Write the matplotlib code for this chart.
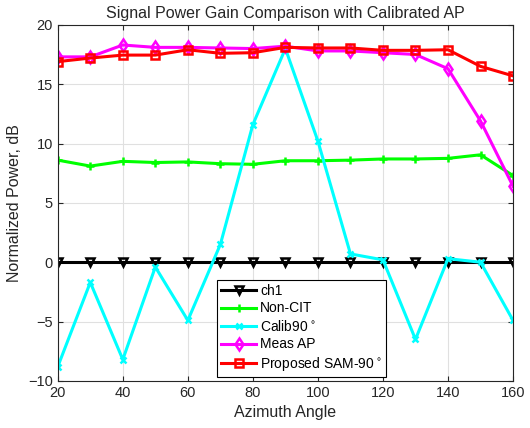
import numpy as np
import matplotlib
matplotlib.use('Agg')
import matplotlib.pyplot as plt

plt.rcParams['font.family'] = ['Liberation Sans', 'DejaVu Sans']

angles = [20, 30, 40, 50, 60, 70, 80, 90, 100, 110, 120, 130, 140, 150, 160]
ch1 = [0]*15
non_cit = [8.6, 8.1, 8.5, 8.4, 8.45, 8.3, 8.25, 8.55, 8.55, 8.6, 8.7, 8.7, 8.75, 9.05, 7.3]
calib90 = [-8.8, -1.7, -8.2, -0.4, -4.9, 1.5, 11.6, 18.0, 10.2, 0.7, 0.2, -6.5, 0.3, 0.0, -4.9]
meas_ap = [17.3, 17.3, 18.3, 18.1, 18.1, 18.05, 18.0, 18.2, 17.8, 17.8, 17.65, 17.5, 16.3, 11.9, 6.4]
sam90 = [16.9, 17.2, 17.45, 17.45, 17.9, 17.6, 17.65, 18.1, 18.05, 18.05, 17.85, 17.85, 17.9, 16.5, 15.7]

fig = plt.figure(figsize=(5.3, 4.28), dpi=100)
ax = fig.add_axes([0.109, 0.110, 0.859, 0.832])

lw = 2.2
ax.plot(angles, ch1, color='k', marker='v', ms=6, lw=lw, mfc='none', mew=1.8, label='ch1')
ax.plot(angles, non_cit, color='#00ff00', marker='+', ms=6, lw=lw, mew=1.8, label='Non-CIT')
ax.plot(angles, calib90, color='#00ffff', marker='x', ms=5, lw=lw, mew=1.8, label='Calib90$^\\circ$')
ax.plot(angles, meas_ap, color='#ff00ff', marker='d', ms=6.5, lw=lw, mfc='none', mew=1.8, label='Meas AP')
ax.plot(angles, sam90, color='#ff0000', marker='s', ms=5.5, lw=lw, mfc='none', mew=1.8, label='Proposed SAM-90$^\\circ$')

ax.set_xlim(20, 160)
ax.set_ylim(-10, 20)
ax.set_xticks(np.arange(20, 161, 20))
ax.set_yticks(np.arange(-10, 21, 5))
ax.grid(True, color='#e0e0e0', lw=0.8)
ax.set_axisbelow(True)
ax.tick_params(direction='in', labelsize=10.5, top=True, right=True, colors='#262626')
for s in ax.spines.values():
    s.set_color('#262626')
ax.set_xlabel('Azimuth Angle', fontsize=11.5, color='#262626')
ax.set_ylabel('Normalized Power, dB', fontsize=11.5, color='#262626')
ax.set_title('Signal Power Gain Comparison with Calibrated AP', fontsize=11.5, color='#262626', pad=5)

leg = ax.legend(loc='lower left', bbox_to_anchor=(0.35, 0.011), fontsize=10, fancybox=False,
                edgecolor='k', framealpha=1, handlelength=2.5, handletextpad=0.3, borderpad=0.3,
                labelspacing=0.25, borderaxespad=0)
leg.get_frame().set_linewidth(0.8)

fig.savefig('out.png', dpi=100)
